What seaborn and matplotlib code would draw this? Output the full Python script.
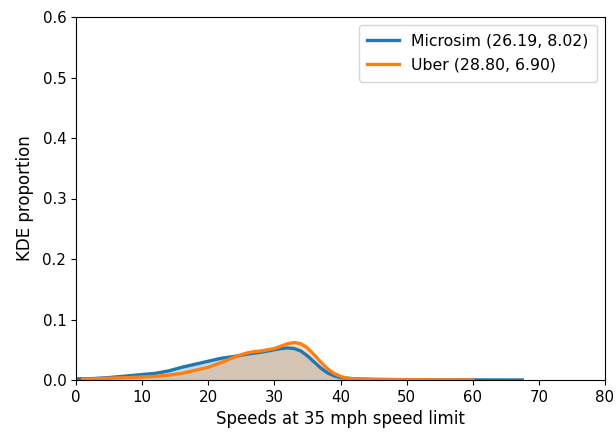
import matplotlib
matplotlib.use("Agg")
import matplotlib.pyplot as plt
import seaborn as sns
import pandas as pd

micro_x = [0, 2, 5, 8, 10, 12, 14, 16, 18, 20, 22, 24, 26, 28, 29, 30, 31, 32, 33, 34, 35, 36, 37, 38, 39, 40, 42, 45, 50, 55, 60, 65, 67.5]
micro_y = [0.002, 0.002, 0.004, 0.007, 0.009, 0.011, 0.015, 0.021, 0.026, 0.031, 0.036, 0.039, 0.043, 0.046, 0.048, 0.050, 0.052, 0.053, 0.052, 0.048, 0.040, 0.030, 0.020, 0.012, 0.007, 0.004, 0.002, 0.001, 0.0005, 0.0003, 0.0002, 0.0001, 0.0]

uber_x = [1, 3, 5, 8, 10, 12, 14, 16, 18, 20, 22, 24, 25, 26, 27, 28, 30, 31, 32, 33, 34, 35, 36, 37, 38, 39, 40, 41, 42, 45, 50, 55, 60]
uber_y = [0.001, 0.002, 0.003, 0.004, 0.005, 0.006, 0.008, 0.011, 0.016, 0.021, 0.029, 0.038, 0.042, 0.045, 0.047, 0.048, 0.052, 0.056, 0.060, 0.062, 0.060, 0.053, 0.042, 0.030, 0.019, 0.011, 0.006, 0.003, 0.002, 0.001, 0.0005, 0.0003, 0.0001]

labels = ["Microsim (26.19, 8.02)", "Uber (28.80, 6.90)"]
x_ticks = [0, 10, 20, 30, 40, 50, 60, 70, 80]
y_ticks = [0.0, 0.1, 0.2, 0.3, 0.4, 0.5, 0.6]

fig = plt.figure(figsize=(6.16, 4.32), dpi=100)
ax = fig.add_axes([76/616, 1-380/432, (605-76)/616, (380-17)/432])

colors = ["#1f77b4", "#ff7f0e"]
for xs, ys, lab, c in [(micro_x, micro_y, labels[0], colors[0]), (uber_x, uber_y, labels[1], colors[1])]:
    df = pd.DataFrame({"x": xs, "y": ys})
    sns.lineplot(data=df, x="x", y="y", ax=ax, color=c, lw=2.4, label=lab, sort=False)
    ax.fill_between(xs, ys, color=c, alpha=0.25, lw=0)

ax.set_xlim(0, 80)
ax.set_ylim(0, 0.6)
ax.set_xticks(x_ticks)
ax.set_yticks(y_ticks)
ax.set_xticklabels([str(t) for t in x_ticks])
ax.set_yticklabels([f"{t:.1f}" for t in y_ticks])
ax.tick_params(labelsize=10.8)
ax.set_xlabel("Speeds at 35 mph speed limit", fontsize=12)
ax.set_ylabel("KDE proportion", fontsize=12, labelpad=6)
ax.legend(loc="upper right", fontsize=11.3, borderpad=0.55, labelspacing=0.6)
fig.savefig("out.png", dpi=100)
